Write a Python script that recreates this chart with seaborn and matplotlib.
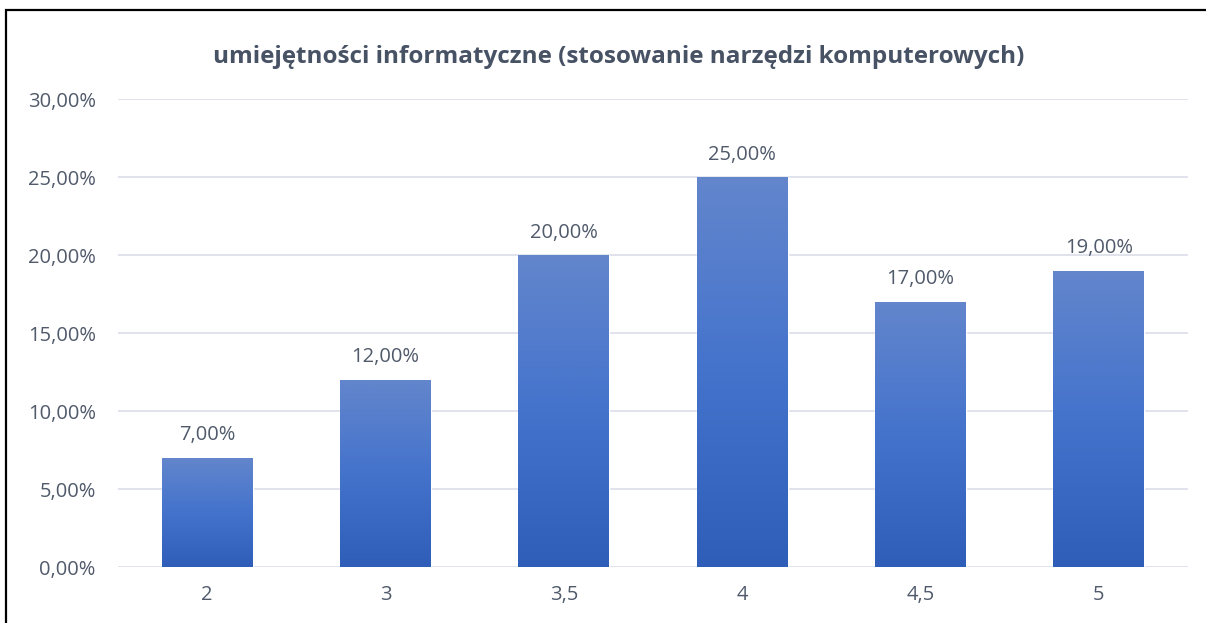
import numpy as np
import pandas as pd
import seaborn as sns
import matplotlib.pyplot as plt
from matplotlib.colors import LinearSegmentedColormap
from matplotlib.patches import Rectangle

# chart data
categories = ["2", "3", "3,5", "4", "4,5", "5"]
shares = [0.07, 0.12, 0.20, 0.25, 0.17, 0.19]
title = "umiejętności informatyczne (stosowanie narzędzi komputerowych)"

text_color = "#505a6b"
grid_color = "#dde1ea"

sns.set_theme(style="white")
plt.rcParams["font.family"] = ["Open Sans", "DejaVu Sans"]

df = pd.DataFrame({"ocena": categories, "udzial": shares})

fig = plt.figure(figsize=(12.06, 6.23), dpi=100)
ax = fig.add_axes([118 / 1206, 56 / 623, 1070 / 1206, 468 / 623])

sns.barplot(data=df, x="ocena", y="udzial", color="#4472C4", width=0.51,
            saturation=1, ax=ax, zorder=3)

# Excel-like vertical gradient on every bar
grad = LinearSegmentedColormap.from_list("bar", ["#2e5eb8", "#4473cc", "#6386cc"])
ramp = np.linspace(0, 1, 256).reshape(-1, 1)
for p in ax.patches:
    x0, y0 = p.get_x(), p.get_y()
    w, h = p.get_width(), p.get_height()
    im = ax.imshow(ramp, cmap=grad, origin="lower", aspect="auto",
                   extent=[x0, x0 + w, y0, y0 + h], zorder=4)
    im.set_clip_path(p)
    ax.text(x0 + w / 2, y0 + h + 0.008, f"{h * 100:.2f}%".replace(".", ","),
            ha="center", va="bottom", fontsize=14.5, color=text_color, zorder=5)

ax.set_xlim(-0.5, len(categories) - 0.5)
ax.set_ylim(0, 0.30)
yticks = np.arange(0, 0.301, 0.05)
ax.set_yticks(yticks)
ax.set_yticklabels([f"{t * 100:.2f}%".replace(".", ",") for t in yticks])
ax.yaxis.grid(True, color=grid_color, linewidth=1.3, zorder=0)
ax.set_axisbelow(True)
for s in ax.spines.values():
    s.set_visible(False)
ax.tick_params(axis="y", length=0, pad=16, labelsize=14.5, labelcolor=text_color)
ax.tick_params(axis="x", length=0, pad=13, labelsize=14.5, labelcolor=text_color)
ax.set_xlabel("")
ax.set_ylabel("")

fig.text(0.513, 1 - 57 / 623, title, ha="center", va="center",
         fontsize=17.5, fontweight="bold", color="#475265")

# frame around the chart, cut at the image edges like the original
fig.patches.append(Rectangle((6 / 1206, -0.2), 1.2, 1.2 - 10 / 623,
                             transform=fig.transFigure, fill=False,
                             edgecolor="black", linewidth=1.6, zorder=10))

fig.savefig("out.png", dpi=100)
